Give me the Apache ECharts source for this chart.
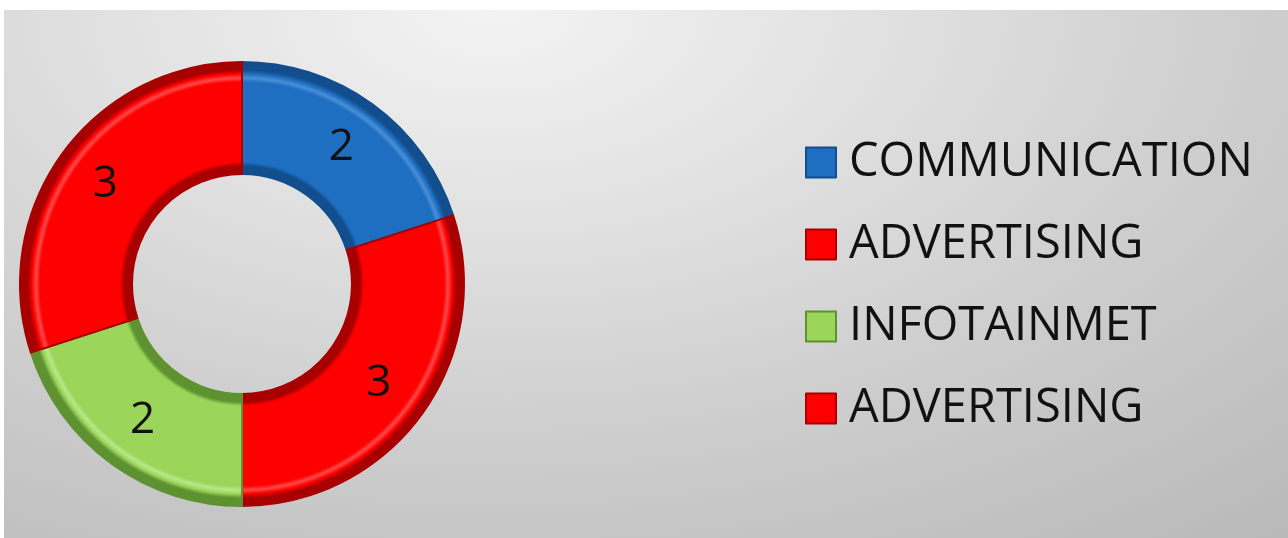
<!DOCTYPE html>
<html><head><meta charset="utf-8">
<script src="https://cdn.jsdelivr.net/npm/echarts@6/dist/echarts.min.js"></script>
<style>
html,body{margin:0;padding:0;background:#fff;width:1288px;height:538px;overflow:hidden}
#bg{position:absolute;left:4px;top:10px;width:1284px;height:528px;
background:radial-gradient(ellipse 95% 130% at 38% 0%, #f3f3f3 0%, #e2e2e2 30%, #cfcfcf 60%, #b9b9b9 100%);}
#chart{position:absolute;left:0;top:0;width:1288px;height:538px}
</style></head>
<body><div id="bg"></div><div id="chart"></div>
<script>
const categories = ['COMMUNICATION', 'ADVERTISING', 'INFOTAINMET', 'ADVERTISING'];
const values = [2, 3, 2, 3];
const baseColors = ['#1e6fc2', '#ff0000', '#9bd55a', '#ff0000'];
const darkColors = ['#124e8e', '#a80000', '#5e9231', '#a80000'];
const lightColors = ['#4a8fd6', '#ff4a4a', '#b8e88a', '#ff4a4a'];

const CX = 242, CY = 284, R0 = 110, R1 = 222;
function ringGrad(i){
  const s = v => v / R1;
  return {type:'radial', x:CX, y:CY, r:R1, global:true, colorStops:[
    {offset:s(R0), color:darkColors[i]},
    {offset:s(R0+8), color:darkColors[i]},
    {offset:s(R0+12), color:baseColors[i]},
    {offset:s(R1-20), color:baseColors[i]},
    {offset:s(R1-16), color:lightColors[i]},
    {offset:s(R1-12), color:baseColors[i]},
    {offset:s(R1-8), color:darkColors[i]},
    {offset:1, color:darkColors[i]}
  ]};
}
const keys = categories.map((c,i)=>c+'#'+i);
const chart = echarts.init(document.getElementById('chart'));
chart.setOption({
  animation:false,
  backgroundColor:'transparent',
  legend:{
    orient:'vertical', left:805, top:139, padding:0,
    itemWidth:30, itemHeight:30, itemGap:35,
    icon:'rect',
    data: keys.map((k,i)=>({name:k, itemStyle:{color:baseColors[i], borderColor:darkColors[i], borderWidth:2}})),
    formatter: n => n.split('#')[0],
    textStyle:{fontFamily:'Open Sans', fontSize:47, color:'#111', padding:[0,0,0,8]},
    selectedMode:false
  },
  series:[{
    type:'pie', center:[CX,CY], radius:[R0,R1], startAngle:90, clockwise:true,
    silent:true,
    label:{show:true, position:'inside', formatter: p => p.value, fontFamily:'Open Sans', fontSize:44, color:'#111'},
    labelLine:{show:false},
    itemStyle:{borderWidth:2},
    data: values.map((v,i)=>({name:keys[i], value:v, itemStyle:{color:ringGrad(i), borderColor:darkColors[i]}}))
  }]
});
</script></body></html>
